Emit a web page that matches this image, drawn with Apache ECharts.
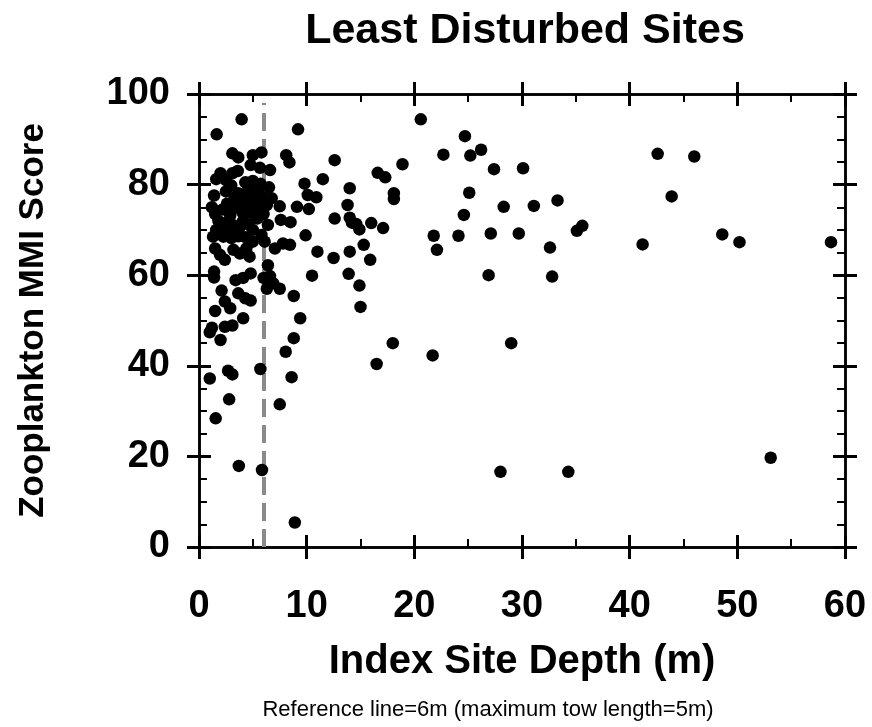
<!DOCTYPE html>
<html>
<head>
<meta charset="utf-8">
<script src="https://cdn.jsdelivr.net/npm/echarts@6/dist/echarts.min.js"></script>
<style>
html,body{margin:0;padding:0;background:#fff;}
#chart{width:872px;height:727px;}
</style>
</head>
<body>
<div id="chart"></div>
<script>
// Depth (m) and MMI score pairs
const depth = [
 9.2,20.6,24.7,22.7,25.2,26.2,27.4,30.1,12.6,18.9,16.6,17.3,11.5,9.8,14.0,10.1,10.9,9.1,10.2,13.8,
 18.1,18.1,25.1,28.3,31.1,24.6,12.6,14.0,14.2,14.6,14.9,16.0,17.1,9.9,21.8,24.1,27.1,29.7,32.6,22.1,
 15.3,11.0,14.0,12.5,15.9,10.5,13.9,26.9,32.8,14.9,15.0,9.4,42.6,46.0,43.9,33.3,35.1,35.6,41.2,48.6,
 50.2,58.7,16.5,18.0,21.7,29.0,28.0,34.3,53.1,8.9,
 1.0,2.8,7.5,1.55,3.7,5.85,8.6,2.7,3.1,5.7,8.05,8.8,8.8,2.0,1.2,1.0,2.4,3.1,4.1,1.5,
 2.4,2.9,2.1,3.65,4.3,4.8,6.3,7.5,6.0,6.6,6.9,1.4,1.4,3.4,4.1,4.8,6.4,1.5,1.95,2.4,
 3.2,3.8,4.4,4.7,7.05,7.8,8.45,5.0,5.8,6.1,1.3,2.26,3.0,3.65,4.3,6.4,7.6,8.5,7.5,1.4,
 3.3,4.3,5.0,6.0,6.75,3.96,1.64,3.1,3.65,5.0,5.8,8.1,8.4,4.8,5.66,6.6,2.0,1.6,2.5,3.1,
 3.6,3.65,5.0,5.7,6.5,4.6,5.5,
 1.2,1.5,1.8,2.2,2.6,2.9,3.3,3.6,4.0,4.4,4.8,5.2,5.6,2.0,2.4,2.8,3.2,3.7,4.1,4.6,
 5.0,5.4,1.6,6.0,6.3,2.5,3.0,4.3
];
const score = [
 92.2,94.4,90.7,86.6,86.4,87.7,83.4,83.6,85.4,84.5,82.6,81.6,81.2,80.2,79.2,77.7,77.2,75.1,74.6,75.5,
 78.1,76.8,78.2,75.1,75.3,73.3,72.5,72.7,71.6,71.3,70.1,71.5,70.4,68.8,68.7,68.7,69.2,69.2,66.1,65.6,
 66.7,65.2,65.2,63.8,63.4,59.9,60.3,60.0,59.7,57.7,53.0,50.5,86.8,86.2,77.4,76.5,69.8,70.9,66.8,69.0,
 67.3,67.3,40.4,45.0,42.3,45.0,16.6,16.6,19.7,5.4,
 37.2,32.6,31.5,28.4,17.9,17.0,37.5,38.9,38.1,39.3,43.1,46.1,55.4,45.7,48.4,47.4,48.6,48.9,50.5,52.1,
 54.2,52.7,56.6,56.0,54.9,54.4,57.0,57.0,59.4,59.8,58.2,60.8,59.5,58.9,59.4,60.4,62.2,65.9,64.5,63.4,
 65.6,64.8,65.9,64.1,65.9,67.0,66.7,67.4,68.9,67.4,68.5,68.5,68.2,68.6,68.4,71.1,72.2,71.7,75.2,77.6,
 77.1,77.1,77.6,77.1,77.0,94.4,91.1,86.9,86.0,86.5,87.1,86.5,84.9,84.3,83.7,83.2,82.5,81.2,81.0,82.5,
 83.0,78.1,80.8,80.2,79.4,79.2,78.4,
 75.0,73.5,72.0,74.5,75.8,73.2,75.0,76.5,74.0,75.5,73.8,76.0,74.5,70.5,71.5,69.8,71.0,70.2,72.0,71.2,
 70.0,72.5,70.0,73.5,75.5,78.5,79.8,80.5
];
const xTicks = [0,10,20,30,40,50,60];
const yTicks = [0,20,40,60,80,100];
const refDepth = 6;
const refTop = 98;

const pts = depth.map((d,i)=>[d,score[i]]);
const FONT = '"Liberation Sans", Arial, Helvetica, sans-serif';
const black = '#000';

function xAx(pos, inside, labels, minor){
  return {
    type:'value', min:xTicks[0], max:xTicks[xTicks.length-1], interval:10, position:pos,
    axisLine:{show:true,onZero:false,lineStyle:{color:black,width:2.5}},
    axisTick:{show:true,inside:inside,length:12,lineStyle:{color:black,width:3}},
    minorTick:{show:minor,splitNumber:2,length:8,lineStyle:{color:black,width:2}},
    axisLabel:{show:labels,color:black,fontFamily:FONT,fontWeight:'bold',fontSize:38,margin:41},
    splitLine:{show:false}, minorSplitLine:{show:false}
  };
}
function yAx(pos, inside, labels, minor){
  return {
    type:'value', min:yTicks[0], max:yTicks[yTicks.length-1], interval:20, position:pos,
    axisLine:{show:true,onZero:false,lineStyle:{color:black,width:2.5}},
    axisTick:{show:true,inside:inside,length:12,lineStyle:{color:black,width:3}},
    minorTick:{show:minor,splitNumber:4,length:8,lineStyle:{color:black,width:2}},
    axisLabel:{show:labels,color:black,fontFamily:FONT,fontWeight:'bold',fontSize:38,margin:29},
    splitLine:{show:false}, minorSplitLine:{show:false}
  };
}
const xA0 = xAx('bottom', false, true, false);
xA0.name = 'Index Site Depth (m)';
xA0.nameLocation = 'middle';
xA0.nameGap = 95;
xA0.nameTextStyle = {color:black,fontFamily:FONT,fontWeight:'bold',fontSize:40};
const yA0 = yAx('left', false, true, false);
yA0.name = 'Zooplankton MMI Score';
yA0.nameLocation = 'middle';
yA0.nameGap = 148;
yA0.nameRotate = 90;
yA0.nameTextStyle = {color:black,fontFamily:FONT,fontWeight:'bold',fontSize:35};

const chart = echarts.init(document.getElementById('chart'), null, {renderer:'canvas'});
chart.setOption({
  animation:false,
  backgroundColor:'#fff',
  grid:{left:199,right:27,top:94,bottom:180,containLabel:false},
  xAxis:[xA0, xAx('bottom',true,false,true), xAx('top',true,false,true), xAx('top',false,false,false)],
  yAxis:[yA0, yAx('left',true,false,true), yAx('right',true,false,true), yAx('right',false,false,false)],
  graphic:[
    {type:'text', x:525, y:31, style:{text:'Least Disturbed Sites', fill:black, font:'bold 43px '+FONT, textAlign:'center', textVerticalAlign:'middle'}},
    {type:'text', x:488, y:710, style:{text:'Reference line=6m (maximum tow length=5m)', fill:black, font:'22px '+FONT, textAlign:'center', textVerticalAlign:'middle'}}
  ],
  series:[{
    type:'scatter', xAxisIndex:0, yAxisIndex:0,
    data:pts, symbol:'circle', symbolSize:12.5,
    itemStyle:{color:black, opacity:1},
    z:3,
    markLine:{
      silent:true, symbol:['none','none'], label:{show:false},
      lineStyle:{color:'#8a8a8a',width:4,type:[18,8]},
      data:[[{coord:[refDepth,0]},{coord:[refDepth,refTop]}]],
      z:2
    }
  }]
});
</script>
</body>
</html>
